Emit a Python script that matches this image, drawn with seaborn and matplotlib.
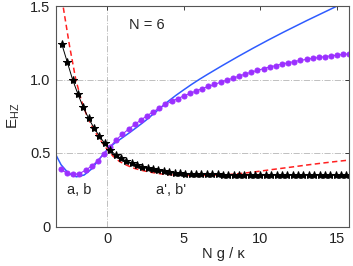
import numpy as np
import pandas as pd
import seaborn as sns
import matplotlib
matplotlib.use("Agg")
import matplotlib.pyplot as plt

# blue solid curve
blue_x = [-3.35, -3.0, -2.5, -2.0, -1.5, -1.0, -0.5, 0.0, 0.5, 1.0, 1.5, 2.0, 2.5, 3.0,
          3.5, 4.0, 4.5, 5.0, 5.5, 6.0, 6.5, 7.0, 7.5, 8.0, 8.5, 9.0, 9.5, 10.0, 10.5,
          11.0, 11.5, 12.0, 12.5, 13.0, 13.5, 14.0, 14.5, 15.0, 15.5, 16.0]
blue_y = [0.49, 0.42, 0.36, 0.338, 0.35, 0.392, 0.46, 0.522, 0.568, 0.604, 0.641, 0.68,
          0.72, 0.764, 0.809, 0.853, 0.893, 0.93, 0.966, 1.0, 1.032, 1.063, 1.094, 1.124,
          1.154, 1.183, 1.212, 1.24, 1.268, 1.295, 1.322, 1.348, 1.374, 1.4, 1.425, 1.45,
          1.475, 1.5, 1.524, 1.548]

# purple dotted curve
purple_x = [-3.0, -2.6, -2.2, -1.8, -1.4, -1.0, -0.6, -0.2, 0.2, 0.6, 1.0, 1.4, 1.8, 2.2,
            2.6, 3.0, 3.4, 3.8, 4.2, 4.6, 5.0, 5.4, 5.8, 6.2, 6.6, 7.0, 7.4, 7.8, 8.2,
            8.6, 9.0, 9.4, 9.8, 10.2, 10.6, 11.0, 11.4, 11.8, 12.2, 12.6, 13.0, 13.4,
            13.8, 14.2, 14.6, 15.0, 15.4, 15.8]
purple_y = [0.388, 0.362, 0.354, 0.36, 0.383, 0.412, 0.448, 0.495, 0.543, 0.59, 0.628,
            0.662, 0.694, 0.724, 0.753, 0.78, 0.806, 0.83, 0.851, 0.87, 0.888, 0.905,
            0.922, 0.938, 0.953, 0.967, 0.981, 0.995, 1.009, 1.023, 1.037, 1.05, 1.062,
            1.074, 1.085, 1.095, 1.105, 1.114, 1.122, 1.13, 1.137, 1.144, 1.15, 1.156,
            1.161, 1.166, 1.171, 1.175]

# red dashed curve
red_x = [-3.35, -2.87, -2.45, -2.04, -1.67, -1.34, -0.91, -0.48, -0.15, 0.39, 0.8, 1.26,
         1.7, 2.13, 2.78, 3.5, 4.3, 5.0, 6.0, 7.0, 8.0, 8.65, 9.5, 10.8, 12.0, 13.0,
         14.0, 15.0, 15.8]
red_y = [1.8, 1.5, 1.23, 1.0, 0.855, 0.76, 0.665, 0.595, 0.545, 0.478, 0.443, 0.418,
         0.398, 0.385, 0.37, 0.358, 0.351, 0.348, 0.347, 0.349, 0.354, 0.36, 0.37, 0.388,
         0.404, 0.418, 0.431, 0.443, 0.452]

# black curve with stars
black_x = [-2.95, -2.6, -2.25, -1.9, -1.55, -1.2, -0.85, -0.5, -0.15, 0.2, 0.55, 0.9,
           1.25, 1.6, 1.95, 2.3, 2.65, 3.0, 3.35, 3.7, 4.05, 4.4, 4.75, 5.1, 5.45, 5.8,
           6.15, 6.5, 6.85, 7.2, 7.55, 7.9, 8.25, 8.6, 8.95, 9.3, 9.65, 10.0, 10.35,
           10.7, 11.05, 11.4, 11.75, 12.1, 12.45, 12.8, 13.15, 13.5, 13.85, 14.2, 14.55,
           14.9, 15.25, 15.6]
black_y = [1.24, 1.12, 1.0, 0.9, 0.81, 0.735, 0.67, 0.615, 0.565, 0.52, 0.488, 0.464,
           0.446, 0.43, 0.417, 0.405, 0.396, 0.388, 0.381, 0.375, 0.37, 0.366, 0.363,
           0.36, 0.358, 0.357, 0.356, 0.355, 0.354, 0.354, 0.353, 0.353, 0.353, 0.353,
           0.353, 0.353, 0.353, 0.353, 0.353, 0.353, 0.353, 0.353, 0.353, 0.353, 0.353,
           0.353, 0.353, 0.353, 0.353, 0.353, 0.353, 0.353, 0.353, 0.353]

xticks = [0, 5, 10, 15]
yticks = [0, 0.5, 1.0, 1.5]
ytick_labels = ["0", "0.5", "1.0", "1.5"]

sns.set_style("white")
plt.rcParams["font.family"] = ["Liberation Sans", "DejaVu Sans"]
plt.rcParams["mathtext.default"] = "regular"

fig = plt.figure(figsize=(3.53, 2.66), dpi=100)
ax = fig.add_axes([56 / 353, 1 - 226.5 / 266, 293 / 353, 220.5 / 266])

# dash-dot reference lines
for yy in [0.5, 1.0]:
    ax.axhline(yy, color="#c0c0c0", lw=0.7, ls="-.", zorder=0)
ax.axvline(0, color="#c0c0c0", lw=0.7, ls="-.", zorder=0)

sns.lineplot(x=blue_x, y=blue_y, ax=ax, color="#2f5cff", linewidth=1.1)
sns.lineplot(x=purple_x, y=purple_y, ax=ax, color="#9b30ff", linewidth=0.8,
             marker="o", markersize=3.6, markeredgecolor="#9b30ff")
sns.lineplot(x=red_x, y=red_y, ax=ax, color="#ff2020", linewidth=1.1)
ax.lines[-1].set_dashes([3.5, 2.2])
sns.lineplot(x=black_x, y=black_y, ax=ax, color="black", linewidth=0.7,
             marker="*", markersize=6, markeredgecolor="black")

ax.set_xlim(-3.33, 15.77)
ax.set_ylim(0, 1.5)
ax.set_xticks(xticks)
ax.set_yticks(yticks)
ax.set_yticklabels(ytick_labels)
ax.tick_params(direction="in", top=True, right=True, length=3, width=0.6,
               labelsize=10.5, pad=4, colors="#222222")
for sp in ax.spines.values():
    sp.set_color("#555555")
    sp.set_linewidth(0.8)

ax.text(2.6, 1.37, "N = 6", fontsize=10.5, ha="center", va="center")
ax.text(-1.84, 0.25, "a, b", fontsize=10.5, ha="center", va="center")
ax.text(4.2, 0.25, "a', b'", fontsize=10.5, ha="center", va="center")

ax.set_xlabel("N g / κ", fontsize=10.5)
ax.xaxis.set_label_coords(0.572, -0.095)
ax.set_ylabel("$E_{HZ}$", fontsize=11)
ax.yaxis.set_label_coords(-0.115, 0.5)

fig.savefig("out.png", dpi=100)
